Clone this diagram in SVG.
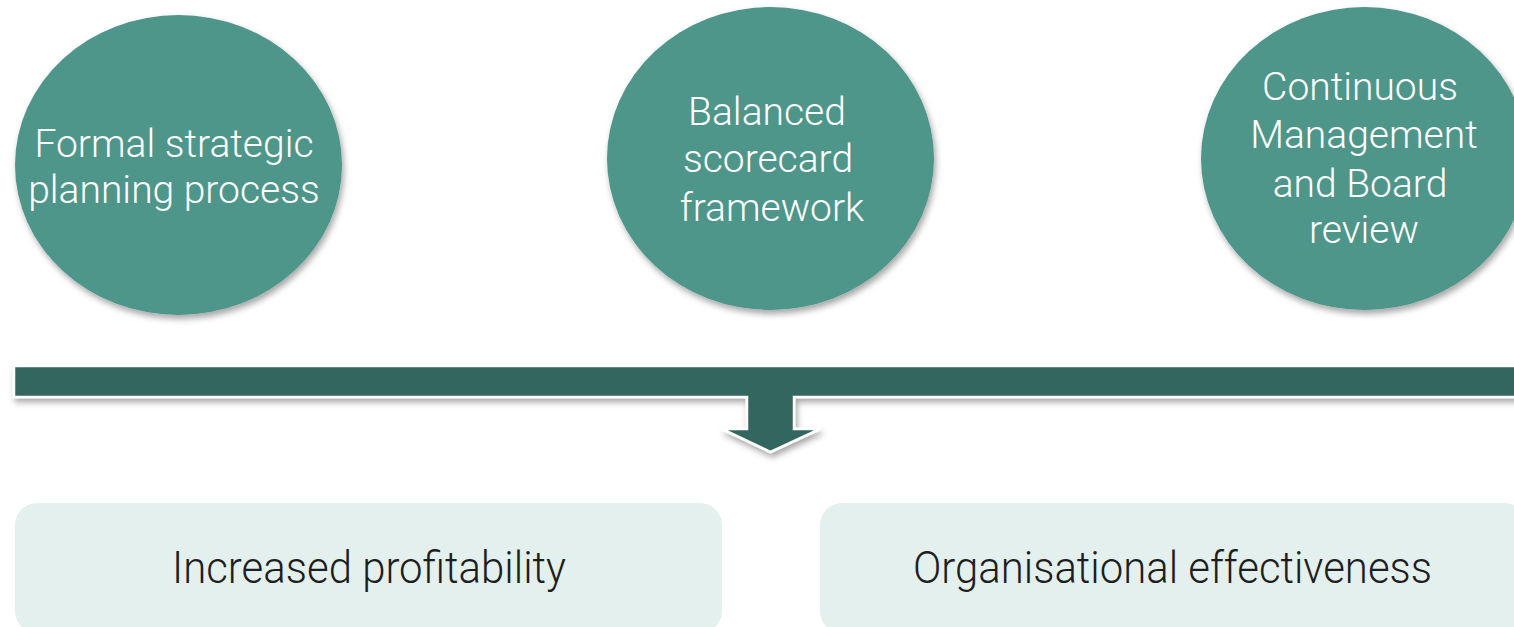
<svg xmlns="http://www.w3.org/2000/svg" width="1514" height="627" viewBox="0 0 1514 627">
<defs>
<filter id="sh" x="-10%" y="-10%" width="125%" height="130%">
<feDropShadow dx="2" dy="4" stdDeviation="3" flood-color="#000" flood-opacity="0.35"/>
</filter>
<style>
.circ{fill:#4f968a;filter:url(#sh)}
.ct{font-family:Roboto,"Liberation Sans",sans-serif;font-weight:300;font-size:39px;fill:#ffffff;text-anchor:middle}
.box{fill:#e3f0ed}
.bt{font-family:Roboto,"Liberation Sans",sans-serif;font-weight:300;font-size:45px;fill:#1e1e1e;text-anchor:middle}
.bar{fill:#33665e;stroke:#ffffff;stroke-width:2.5;filter:url(#sh)}
</style>
</defs>
<rect width="1514" height="627" fill="#ffffff"/>
<g id="node-formal">
<ellipse class="circ" cx="178.5" cy="165" rx="163.5" ry="150"/>
<text class="ct" x="174" y="157">Formal strategic</text>
<text class="ct" x="174" y="203">planning process</text>
</g>
<g id="node-balanced">
<ellipse class="circ" cx="770.5" cy="158.5" rx="163.5" ry="151.5"/>
<text class="ct" x="767" y="125">Balanced</text>
<text class="ct" x="768" y="172">scorecard</text>
<text class="ct" x="772" y="221">framework</text>
</g>
<g id="node-continuous">
<ellipse class="circ" cx="1364.5" cy="158.5" rx="163.5" ry="151.5"/>
<text class="ct" x="1360" y="100">Continuous</text>
<text class="ct" x="1364" y="148">Management</text>
<text class="ct" x="1360" y="197">and Board</text>
<text class="ct" x="1364" y="243">review</text>
</g>
<g id="connectors">
<path class="bar" d="M14,366 H1530 V397 H794 V429 H820 L770.5,452 L722,429 H747 V397 H14 Z"/>
</g>
<g id="node-profit">
<rect class="box" x="15" y="503" width="707" height="130" rx="22"/>
<text class="bt" x="369" y="583" textLength="394" lengthAdjust="spacingAndGlyphs">Increased profitability</text>
</g>
<g id="node-effect">
<rect class="box" x="820" y="503" width="707" height="130" rx="22"/>
<text class="bt" x="1172.5" y="583" textLength="519" lengthAdjust="spacingAndGlyphs">Organisational effectiveness</text>
</g>
</svg>
